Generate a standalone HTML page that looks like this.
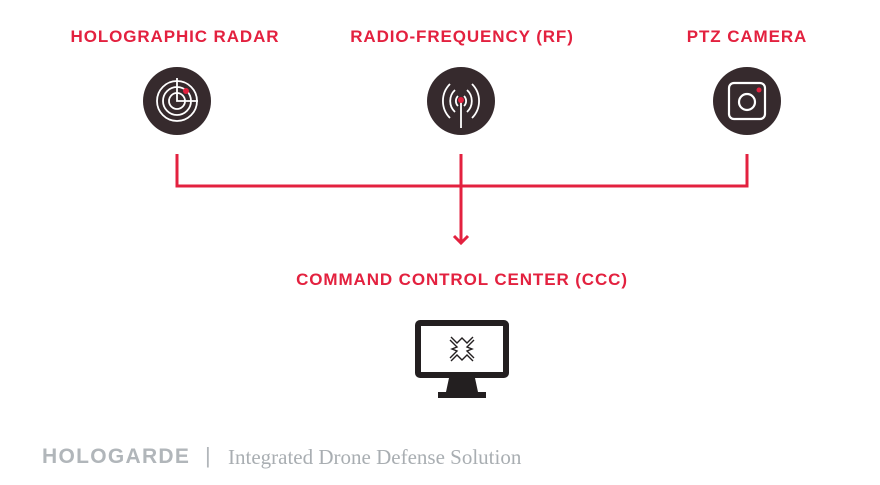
<!DOCTYPE html>
<html><head><style>
body{margin:0;width:880px;height:485px;background:#fff;overflow:hidden;position:relative;font-family:"Liberation Sans",sans-serif}
.t{position:absolute;color:#e3213f;font-weight:bold;font-size:17px;letter-spacing:0.9px;white-space:nowrap;transform:translateX(-50%)}
</style></head><body>
<div class="t" style="left:175px;top:27px">HOLOGRAPHIC RADAR</div>
<div class="t" style="left:462px;top:27px">RADIO-FREQUENCY (RF)</div>
<div class="t" style="left:747px;top:27px">PTZ CAMERA</div>
<div class="t" style="left:462px;top:270px">COMMAND CONTROL CENTER (CCC)</div>
<svg width="880" height="485" style="position:absolute;left:0;top:0">
<g stroke="#e3213f" stroke-width="3" fill="none">
<path d="M177 154V186H747V154M461 154V243"/>
<path d="M454 236L461 243L468 236"/>
</g>
<circle cx="177" cy="101" r="34" fill="#362a2d"/>
<circle cx="461" cy="101" r="34" fill="#362a2d"/>
<circle cx="747" cy="101" r="34" fill="#362a2d"/>
<g stroke="#fff" stroke-width="1.8" fill="none">
<circle cx="177" cy="101" r="20"/><circle cx="177" cy="101" r="14"/><circle cx="177" cy="101" r="8"/>
<path d="M177 78V101H198"/>
<path d="M450 84a24 24 0 0 0 0 34M472 84a24 24 0 0 1 0 34M455 90a15 15 0 0 0 0 22M467 90a15 15 0 0 1 0 22M458 96a7 7 0 0 0 0 10M464 96a7 7 0 0 1 0 10M461 101V128"/>
<rect x="729" y="83" width="36" height="36" rx="5" stroke-width="2.2"/>
<circle cx="747" cy="102" r="8" stroke-width="2.2"/>
</g>
<circle cx="186" cy="91" r="3" fill="#e3213f"/>
<circle cx="461" cy="100" r="3" fill="#e3213f"/>
<circle cx="759" cy="90" r="2.5" fill="#e3213f"/>
<rect x="415" y="320" width="94" height="58" rx="5" fill="#231f20"/>
<rect x="421" y="326" width="82" height="46" fill="#fff"/>
<path d="M449 378h26l3 14h8v6h-48v-6h8z" fill="#231f20"/>
<g stroke="#231f20" stroke-width="1.4" fill="none">
<path d="M451 337l6 6 5-5 5 5 6-6M451 361l6-6 5 5 5-5 6 6M450 340l7 7-5 2 5 2-7 7M474 340l-7 7 5 2-5 2 7 7"/>
</g>
</svg>
<div style="position:absolute;left:42px;top:445px;font-size:21px;font-weight:bold;color:#b1b6ba;letter-spacing:1.3px">HOLOGARDE</div>
<div style="position:absolute;left:205px;top:443px;font-size:22px;color:#b1b6ba">|</div>
<div style="position:absolute;left:228px;top:445px;font-size:21px;color:#a9aeb2;font-family:'Liberation Serif',serif">Integrated Drone Defense Solution</div>
</body></html>
